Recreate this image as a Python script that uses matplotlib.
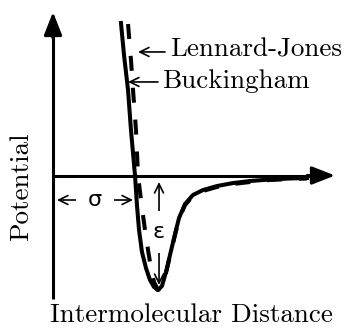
import numpy as np
import matplotlib
matplotlib.use('Agg')
import matplotlib.pyplot as plt

plt.rcParams['font.family'] = 'cmr10'
plt.rcParams['mathtext.fontset'] = 'cm'
plt.rcParams['axes.formatter.use_mathtext'] = True

# reduced units: distance in sigma, potential in epsilon
buck_r = [0.829, 0.866, 0.915, 0.951, 1.000, 1.024, 1.049, 1.085, 1.134, 1.183,
          1.232, 1.280, 1.329, 1.378, 1.427, 1.488, 1.537, 1.610, 1.707, 1.829,
          2.000, 2.195, 2.402, 2.646, 2.890, 3.098]
buck_v = [1.332, 1.052, 0.747, 0.397, 0.000, -0.258, -0.476, -0.668, -0.808, -0.913,
          -0.974, -1.000, -0.965, -0.843, -0.694, -0.511, -0.371, -0.249, -0.170, -0.127,
          -0.092, -0.066, -0.048, -0.035, -0.026, -0.022]

lj_r = [0.915, 0.951, 0.976, 1.012, 1.037, 1.073, 1.122, 1.159, 1.195, 1.232,
        1.280, 1.329, 1.378, 1.427, 1.488, 1.537, 1.610, 1.707, 1.829, 2.000,
        2.195, 2.402, 2.646, 2.890, 3.098]
lj_v = [1.323, 1.009, 0.747, 0.397, 0.000, -0.214, -0.476, -0.651, -0.808, -0.930,
        -1.000, -0.974, -0.852, -0.703, -0.520, -0.380, -0.258, -0.179, -0.135, -0.100,
        -0.074, -0.057, -0.039, -0.031, -0.026]

sigma_y = -0.214
eps_x = 1.293
eps_top, eps_bot = -0.057, -0.956

fig = plt.figure(figsize=(3.5, 3.33), dpi=100)
ax = fig.add_axes([0, 0, 1, 1])
ax.set_xlim(-0.6463, 3.6220)
ax.set_ylim(-1.3755, 1.5328)
ax.axis('off')

fs = 19.5
big = dict(arrowstyle='-|>,head_length=1.4,head_width=0.55', lw=2.2, color='k',
           mutation_scale=10, shrinkA=0, shrinkB=0)
small = dict(arrowstyle='->,head_length=0.65,head_width=0.32', lw=1.2, color='k',
             shrinkA=0, shrinkB=0, mutation_scale=10)
both = dict(small, arrowstyle='<->,head_length=0.65,head_width=0.32')

# axes with arrows
ax.plot([0, 0], [-1.079, 1.30], color='k', lw=2.2, solid_capstyle='butt', zorder=2)
ax.annotate('', xy=(0, 1.428), xytext=(0, 1.2), arrowprops=big, zorder=2)
ax.plot([0, 3.2], [0, 0], color='k', lw=2.2, solid_capstyle='butt', zorder=2)
ax.annotate('', xy=(3.439, 0), xytext=(3.1, 0), arrowprops=big, zorder=2)

# potential curves
ax.plot(buck_r, buck_v, color='k', lw=2.9, solid_joinstyle='round', zorder=4)
lw = 2.9
ax.plot(lj_r, lj_v, color='k', lw=lw, linestyle=(0, (10.8 / lw, 12.2 / lw)), zorder=4)

# sigma and epsilon markers
ax.annotate('', xy=(0.049, sigma_y), xytext=(0.976, sigma_y), arrowprops=both, zorder=1)
ax.text(0.512, sigma_y, 'σ', family='DejaVu Sans', fontsize=16, ha='center', va='center',
        zorder=2, bbox=dict(boxstyle='square,pad=0.55', fc='white', ec='none'))
ax.annotate('', xy=(eps_x, eps_top), xytext=(eps_x, eps_bot), arrowprops=both, zorder=1)
ax.text(eps_x, -0.493, 'ε', family='DejaVu Sans', fontsize=16, ha='center', va='center',
        zorder=2, bbox=dict(boxstyle='square,pad=0.5', fc='white', ec='none'))

# curve labels
ax.annotate('', xy=(1.037, 1.079), xytext=(1.366, 1.079), arrowprops=small)
ax.text(1.427, 1.035, 'Lennard-Jones', fontsize=fs, ha='left', va='baseline')
ax.annotate('', xy=(0.915, 0.817), xytext=(1.280, 0.817), arrowprops=small)
ax.text(1.329, 0.764, 'Buckingham', fontsize=fs, ha='left', va='baseline')

# axis titles
ax.text(1.689, -1.279, 'Intermolecular Distance', fontsize=fs, ha='center', va='baseline')
ax.text(-0.390, -0.096, 'Potential', fontsize=fs, rotation=90, ha='center', va='center')

fig.savefig('out.png', dpi=100)
